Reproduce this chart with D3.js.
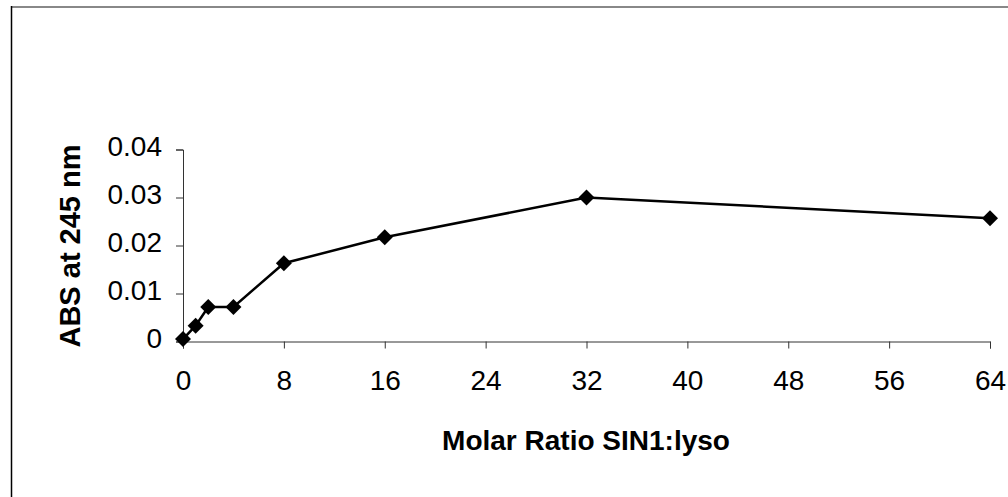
<!DOCTYPE html>
<html>
<head>
<meta charset="utf-8">
<script src="https://cdn.jsdelivr.net/npm/d3@7"></script>
<style>
  body { margin: 0; background: #fff; }
  svg { display: block; font-family: "Liberation Sans", Arial, sans-serif; }
</style>
</head>
<body>
<div id="chart"></div>
<script>
const ratios = [0, 1, 2, 4, 8, 16, 32, 64];
const absValues = [0.0005, 0.0033, 0.0072, 0.0072, 0.0163, 0.0217, 0.0300, 0.0257];
const xTicks = [0, 8, 16, 24, 32, 40, 48, 56, 64];
const yTicks = [0, 0.01, 0.02, 0.03, 0.04];

const width = 1008;
const height = 497;

const svg = d3.select('#chart')
  .append('svg')
  .attr('width', width)
  .attr('height', height);

// frame edges
svg.append('line')
  .attr('x1', 11).attr('x2', width).attr('y1', 7).attr('y2', 7)
  .attr('stroke', '#888').attr('stroke-width', 2);
svg.append('line')
  .attr('x1', 11.5).attr('x2', 11.5).attr('y1', 6).attr('y2', height)
  .attr('stroke', '#000').attr('stroke-width', 1.5);

const x = d3.scaleLinear().domain([0, 64]).range([183, 990]);
const y = d3.scaleLinear().domain([0, 0.04]).range([341.5, 149.5]);

const fmt = (d) => (d === 0 ? '0' : d3.format('.2f')(d));

// y axis
svg.append('g')
  .attr('transform', `translate(${x(0)},0)`)
  .call(d3.axisLeft(y).tickValues(yTicks).tickFormat(fmt).tickSize(7).tickPadding(14))
  .call((g) => g.selectAll('path, line').attr('stroke', '#333'))
  .call((g) => g.selectAll('text')
    .attr('font-family', '"Liberation Sans", Arial, sans-serif')
    .attr('font-size', 28).attr('fill', '#000').attr('dy', '0.22em'));

// x axis
svg.append('g')
  .attr('transform', `translate(0,${y(0)})`)
  .call(d3.axisBottom(x).tickValues(xTicks).tickSize(7).tickPadding(22))
  .call((g) => g.selectAll('path, line').attr('stroke', '#333'))
  .call((g) => g.selectAll('text')
    .attr('font-family', '"Liberation Sans", Arial, sans-serif')
    .attr('font-size', 28).attr('fill', '#000'));

// axis titles
svg.append('text')
  .attr('x', 586).attr('y', 450)
  .attr('text-anchor', 'middle')
  .attr('font-size', 28).attr('font-weight', 'bold')
  .text('Molar Ratio SIN1:lyso');

svg.append('text')
  .attr('transform', `translate(80,246) rotate(-90)`)
  .attr('text-anchor', 'middle')
  .attr('font-size', 29).attr('font-weight', 'bold')
  .text('ABS at 245 nm');

const points = ratios.map((r, i) => ({ r, v: absValues[i] }));

svg.append('path')
  .datum(points)
  .attr('fill', 'none')
  .attr('stroke', '#000')
  .attr('stroke-width', 2.5)
  .attr('d', d3.line().x((d) => x(d.r)).y((d) => y(d.v)));

svg.selectAll('.pt')
  .data(points)
  .enter()
  .append('path')
  .attr('class', 'pt')
  .attr('transform', (d) => `translate(${x(d.r)},${y(d.v)})`)
  .attr('d', 'M0,-8L8,0L0,8L-8,0Z')
  .attr('fill', '#000');
</script>
</body>
</html>
